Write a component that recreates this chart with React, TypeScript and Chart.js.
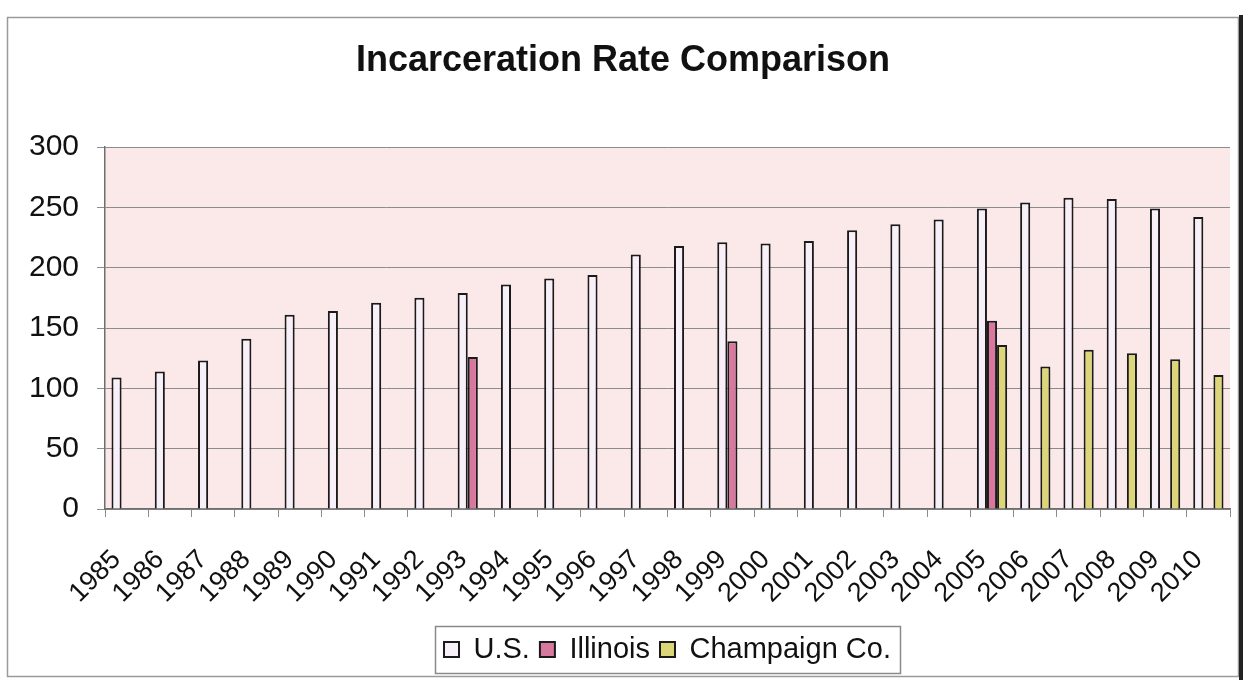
import React, { useEffect, useRef } from "react";
import { Chart, registerables } from "chart.js";

Chart.register(...registerables);

const years = [
  "1985", "1986", "1987", "1988", "1989", "1990", "1991", "1992", "1993",
  "1994", "1995", "1996", "1997", "1998", "1999", "2000", "2001", "2002",
  "2003", "2004", "2005", "2006", "2007", "2008", "2009", "2010",
];

const usRates = [
  109, 114, 123, 141, 161, 164, 171, 175, 179, 186, 191, 194, 211, 218, 221,
  220, 222, 231, 236, 240, 249, 254, 258, 257, 249, 242,
];

const illinoisRates = [
  null, null, null, null, null, null, null, null, 126, null, null, null, null,
  null, 139, null, null, null, null, null, 156, null, null, null, null, null,
];

const champaignRates = [
  null, null, null, null, null, null, null, null, null, null, null, null, null,
  null, null, null, null, null, null, null, 136, 118, 132, 129, 124, 111,
];

const seriesNames = ["U.S.", "Illinois", "Champaign Co."];
const titleText = "Incarceration Rate Comparison";
const yMin = 0;
const yMax = 300;
const yStep = 50;

const FONT = "'Liberation Sans', Arial, Helvetica, sans-serif";

export default function App() {
  const ref = useRef<HTMLCanvasElement>(null);

  useEffect(() => {
    document.body.style.margin = "0";
    const canvas = ref.current;
    if (!canvas) return;

    const decor = {
      id: "decor",
      beforeDraw(chart: any) {
        const { ctx, chartArea: a, width, height } = chart;
        ctx.save();
        ctx.fillStyle = "#ffffff";
        ctx.fillRect(0, 0, width, height);
        ctx.fillStyle = "#fbe9ea";
        ctx.fillRect(a.left, a.top, a.right - a.left, a.bottom - a.top);
        ctx.restore();
      },
      afterDraw(chart: any) {
        const { ctx } = chart;
        ctx.save();
        // title
        ctx.fillStyle = "#111";
        ctx.font = `bold 36px ${FONT}`;
        ctx.textAlign = "center";
        ctx.textBaseline = "middle";
        ctx.fillText(titleText, 623, 61);
        // legend frame
        const lg = chart.legend;
        if (lg && lg.legendHitBoxes && lg.legendHitBoxes.length) {
          const hb = lg.legendHitBoxes;
          let l = Infinity, r = -Infinity, t = Infinity, b = -Infinity;
          for (const h of hb) {
            l = Math.min(l, h.left);
            r = Math.max(r, h.left + h.width);
            t = Math.min(t, h.top);
            b = Math.max(b, h.top + h.height);
          }
          ctx.strokeStyle = "#8a8a8a";
          ctx.lineWidth = 1.5;
          ctx.strokeRect(Math.round(l - 9) + 0.5, Math.round(t - 9) + 0.5, Math.round(r - l + 18), Math.round(b - t + 18));
        }
        // outer border
        ctx.strokeStyle = "#9a9a9a";
        ctx.lineWidth = 1.5;
        ctx.strokeRect(7.5, 17.5, 1231, 659);
        ctx.strokeStyle = "#222";
        ctx.lineWidth = 4;
        ctx.beginPath();
        ctx.moveTo(1241, 15);
        ctx.lineTo(1241, 680);
        ctx.stroke();
        ctx.restore();
      },
    };

    const chart = new Chart(canvas, {
      type: "bar",
      data: {
        labels: years,
        datasets: [
          {
            label: seriesNames[0],
            data: usRates,
            backgroundColor: "#f8f0f8",
            borderColor: "#1a1a1a",
            borderWidth: 2,
          },
          {
            label: seriesNames[1],
            data: illinoisRates,
            backgroundColor: "#d9789e",
            borderColor: "#1a1a1a",
            borderWidth: 2,
          },
          {
            label: seriesNames[2],
            data: champaignRates,
            backgroundColor: "#dcd679",
            borderColor: "#1a1a1a",
            borderWidth: 2,
          },
        ],
      },
      options: {
        animation: false,
        responsive: false,
        devicePixelRatio: 1,
        layout: { padding: { top: 147, left: 0, right: 16, bottom: 6 } },
        datasets: {
          bar: { categoryPercentage: 0.7, barPercentage: 1.0 },
        },
        plugins: {
          title: { display: false },
          tooltip: { enabled: false },
          legend: {
            display: true,
            position: "bottom",
            fullSize: false,
            labels: {
              font: { family: FONT, size: 29 },
              color: "#111",
              boxWidth: 15,
              boxHeight: 15,
              padding: 10,
            },
          },
        },
        scales: {
          x: {
            grid: {
              display: true,
              drawOnChartArea: false,
              drawTicks: true,
              tickLength: 8,
              color: "#8c8c8c",
            },
            border: { display: true, color: "#6e6e6e", width: 1.5 },
            ticks: {
              autoSkip: false,
              maxRotation: 45,
              minRotation: 45,
              padding: 27,
              labelOffset: -10,
              color: "#111",
              font: { family: FONT, size: 27 },
            },
            afterFit: (scale: any) => {
              scale.height = 116;
              scale.paddingRight = 0;
              scale.paddingLeft = 0;
            },
          },
          y: {
            min: yMin,
            max: yMax,
            grid: {
              color: "#8c8c8c",
              lineWidth: 1,
              drawTicks: true,
              tickLength: 8,
            },
            border: { display: true, color: "#6e6e6e", width: 1.5 },
            ticks: {
              stepSize: yStep,
              padding: 18,
              color: "#111",
              font: { family: FONT, size: 30 },
            },
            afterFit: (scale: any) => {
              scale.width = 105;
            },
          },
        },
      },
      plugins: [decor],
    } as any);

    return () => chart.destroy();
  }, []);

  return (
    <canvas
      ref={ref}
      width={1246}
      height={680}
      style={{ display: "block", width: "1246px", height: "680px" }}
    />
  );
}
